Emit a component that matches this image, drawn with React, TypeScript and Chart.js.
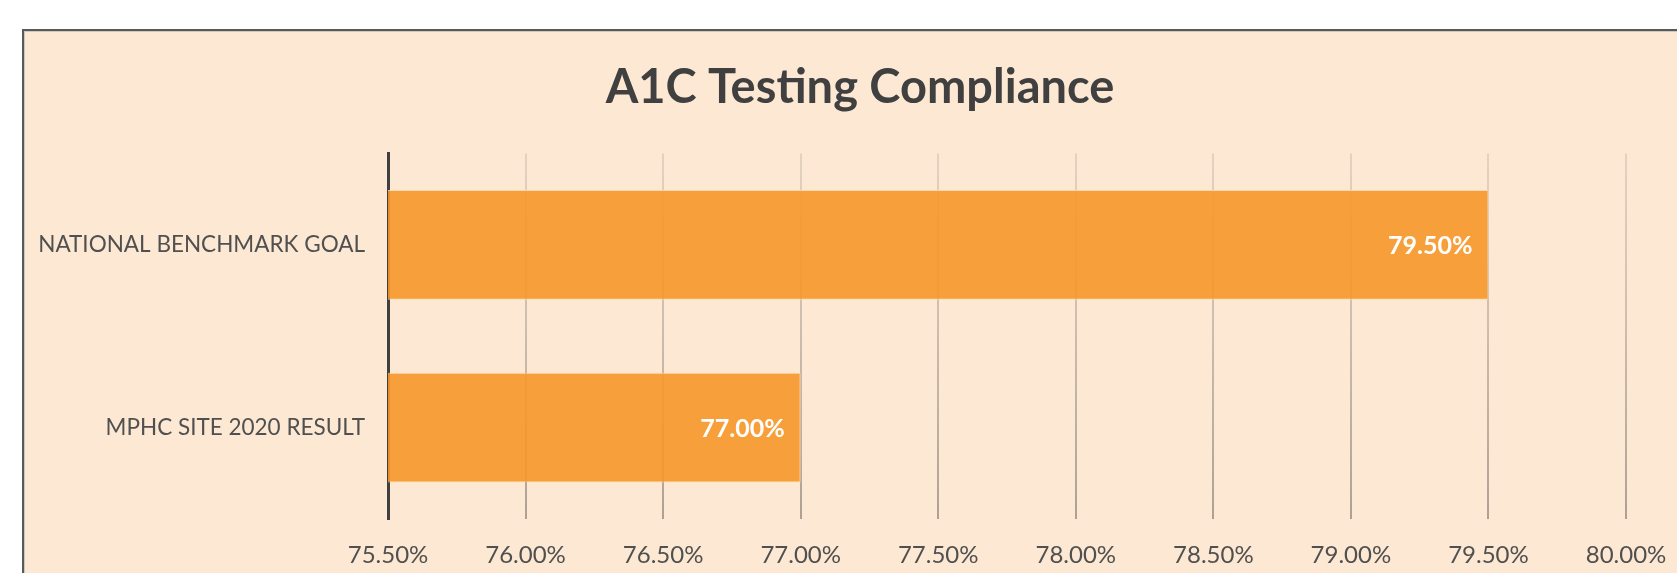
import React, { useEffect, useRef } from "react";
import { Chart, registerables } from "chart.js";

Chart.register(...registerables);

const title = "A1C Testing Compliance";
const categories = ["NATIONAL BENCHMARK GOAL", "MPHC SITE 2020 RESULT"];
const values = [79.5, 77.0];
const xMin = 75.5;
const xMax = 80.0;
const xStep = 0.5;

const FONT = "Lato, 'Open Sans', sans-serif";
const BG = "#FDE9D3";
const CANVAS_W = 1720;
const CANVAS_H = 573;

const valueLabels = {
  id: "valueLabels",
  afterDatasetsDraw(chart: any) {
    const ctx = chart.ctx;
    const meta = chart.getDatasetMeta(0);
    ctx.save();
    ctx.fillStyle = "#FFFFFF";
    ctx.font = `bold 25px ${FONT}`;
    ctx.textAlign = "right";
    ctx.textBaseline = "middle";
    meta.data.forEach((bar: any, i: number) => {
      const v = chart.data.datasets[0].data[i] as number;
      ctx.fillText(v.toFixed(2) + "%", bar.x - 16, bar.y + 1);
    });
    ctx.restore();
  },
};

export default function App() {
  const ref = useRef<HTMLCanvasElement | null>(null);
  useEffect(() => {
    if (!ref.current) return;
    const chart = new Chart(ref.current, {
      type: "bar",
      data: {
        labels: categories,
        datasets: [
          {
            data: values,
            yAxisID: "y",
            backgroundColor: "rgba(246,152,42,0.9)",
            borderColor: "rgba(252,214,168,0.9)",
            borderWidth: 1,
            borderSkipped: false,
            barPercentage: 0.6,
            categoryPercentage: 1,
          },
        ],
      },
      options: {
        indexAxis: "y",
        animation: false,
        responsive: false,
        maintainAspectRatio: false,
        layout: { padding: { left: 0, right: 0, top: 0, bottom: 0 } },
        plugins: {
          legend: { display: false },
          tooltip: { enabled: false },
          title: {
            display: true,
            text: title,
            color: "#404040",
            font: { family: FONT, size: 47, weight: "bold" },
            padding: { top: 60, bottom: 37 },
          },
        },
        scales: {
          x: {
            type: "linear",
            min: xMin,
            max: xMax,
            ticks: {
              stepSize: xStep,
              color: "#505050",
              font: { family: FONT, size: 24 },
              padding: 22,
              callback: (v: any) => Number(v).toFixed(2) + "%",
            },
            grid: {
              drawTicks: false,
              lineWidth: 2,
              color: (c: any) => {
                if (c.index === 0) return "rgba(0,0,0,0)";
                const area = c.chart.chartArea;
                if (!area) return "rgba(170,158,145,0.8)";
                const g = c.chart.ctx.createLinearGradient(0, area.top, 0, area.bottom);
                g.addColorStop(0, "rgba(215,200,185,0.7)");
                g.addColorStop(1, "rgba(165,152,140,0.9)");
                return g;
              },
            },
            border: { display: false },
            afterFit: (s: any) => {
              s.height = 54;
            },
          },
          y: {
            position: "left",
            ticks: {
              color: "#505050",
              font: { family: FONT, size: 22.5 },
              padding: 23,
            },
            grid: { display: false, drawTicks: false },
            border: { display: true, color: "#404040", width: 3 },
            afterFit: (s: any) => {
              s.width = 388;
            },
          },
          yRight: {
            type: "category",
            position: "right",
            ticks: { display: false },
            grid: { display: false, drawTicks: false },
            border: { display: false },
            afterFit: (s: any) => {
              s.width = CANVAS_W - 1626;
            },
          },
        },
      },
      plugins: [valueLabels],
    });
    return () => chart.destroy();
  }, []);

  return (
    <div
      style={{
        position: "fixed",
        left: 0,
        top: 0,
        width: 1677,
        height: 573,
        overflow: "hidden",
        background: "#FFFFFF",
      }}
    >
      <div
        style={{
          position: "absolute",
          left: 22,
          top: 29,
          width: 1700,
          height: 600,
          background: BG,
          borderTop: "2px solid #5a5a5a",
          borderLeft: "2px solid #5a5a5a",
          boxShadow: "inset 1px 1px 0 #cfc6bc",
          boxSizing: "border-box",
        }}
      />
      <canvas
        ref={ref}
        width={CANVAS_W}
        height={CANVAS_H}
        style={{ position: "absolute", left: 0, top: 0, width: CANVAS_W, height: CANVAS_H }}
      />
    </div>
  );
}
